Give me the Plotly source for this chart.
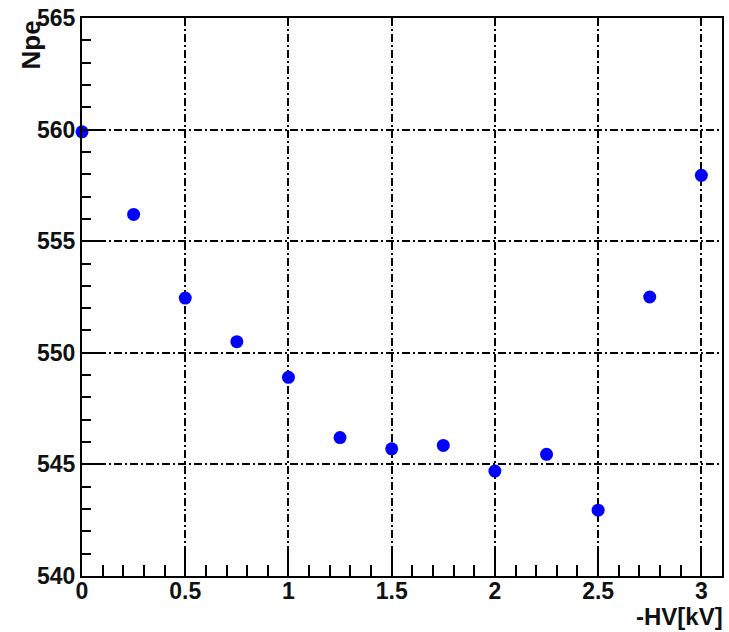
import plotly.graph_objects as go

hv = [0, 0.25, 0.5, 0.75, 1.0, 1.25, 1.5, 1.75, 2.0, 2.25, 2.5, 2.75, 3.0]
npe = [559.9, 556.2, 552.45, 550.5, 548.9, 546.2, 545.7, 545.85, 544.7, 545.45, 542.95, 552.5, 557.95]

x_range = [0, 3.1]
y_range = [540, 565]
x_title = "-HV[kV]"
y_title = "Npe"

tick_font = dict(family="Liberation Sans, Arial, sans-serif", size=23, color="#111111", weight="bold")
xtitle_font = dict(family="Liberation Sans, Arial, sans-serif", size=24, color="#111111", weight="bold")
ytitle_font = dict(family="Liberation Sans, Arial, sans-serif", size=26, color="#111111", weight="bold")

fig = go.Figure()
fig.add_trace(go.Scatter(
    x=hv, y=npe, mode="markers",
    marker=dict(color="#0000ff", size=13, line=dict(width=0)),
    cliponaxis=False,
))

axis_common = dict(
    showline=True, linecolor="black", linewidth=2, mirror=True,
    ticks="inside", tickcolor="black", tickwidth=2,
    showgrid=True, gridcolor="black", gridwidth=1.5, griddash="8px,3px,2px,3px",
    zeroline=False, tickfont=tick_font,
)

fig.update_xaxes(
    range=x_range, tick0=0, dtick=0.5, ticklen=22, ticklabelstandoff=-7,
    minor=dict(ticks="inside", ticklen=11, dtick=0.1, tickcolor="black", tickwidth=2, showgrid=False),
    **axis_common,
)
fig.update_yaxes(
    range=y_range, tick0=540, dtick=5, ticklen=18,
    minor=dict(ticks="inside", ticklen=9, dtick=1, tickcolor="black", tickwidth=2, showgrid=False),
    **axis_common,
)

fig.update_layout(
    width=729, height=632,
    margin=dict(l=82, r=5, t=16, b=56),
    plot_bgcolor="white", paper_bgcolor="white",
    showlegend=False,
    font=tick_font,
    annotations=[
        dict(text=x_title, xref="paper", yref="paper", x=1, y=0,
             xanchor="right", yanchor="top", yshift=-26, xshift=2, borderpad=0,
             showarrow=False, font=xtitle_font),
        dict(text=y_title, xref="paper", yref="paper", x=0, y=1, textangle=-90,
             xanchor="center", yanchor="top", xshift=-52, yshift=-1, showarrow=False, font=ytitle_font),
    ],
)

fig.write_html("out.html")
